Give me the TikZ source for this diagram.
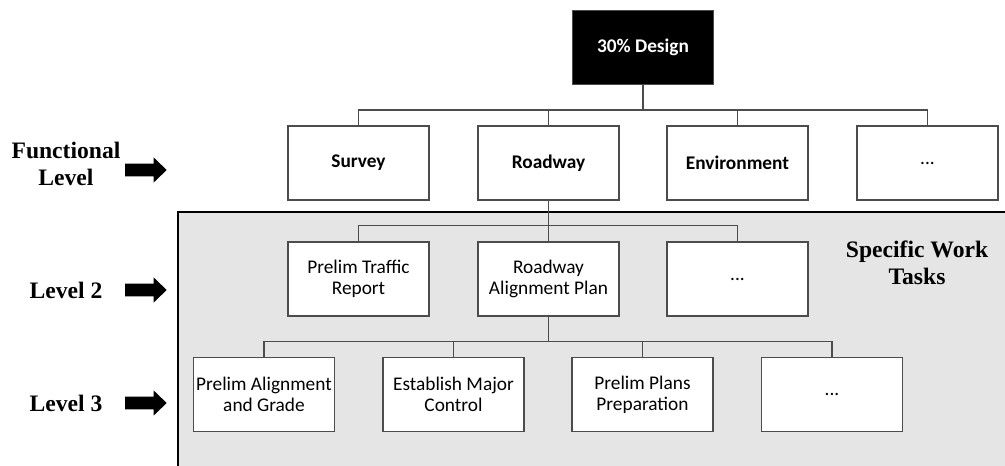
\documentclass[tikz,border=0pt]{standalone}
\usepackage{fontspec}
\setmainfont{Liberation Serif}
\newfontfamily\boxfont{Carlito}
\usetikzlibrary{calc}

\tikzset{
  task/.style={draw=black!70, line width=0.8pt, fill=white, minimum width=105.75pt,
    minimum height=55.5pt, inner sep=0pt, align=center,
    font=\boxfont\fontsize{14.5}{15.75}\selectfont},
  link/.style={draw=black!70, line width=0.8pt},
  levellabel/.style={font=\bfseries\fontsize{17.7}{20.5}\selectfont, align=center},
  levelarrow/.style={fill=black},
}

\begin{document}
\begin{tikzpicture}[x=0.75pt,y=-0.75pt]
    \useasboundingbox (0,0) rectangle (1005,466);
    % shaded work tasks panel
    \fill[black!10] (178,212) rectangle (1005,466);
    \draw[line width=1pt] (178,466) -- (178,212) -- (1005,212);
    % boxes
    \node[task, fill=black, text=white, font=\boxfont\bfseries\fontsize{14.5}{15.75}\selectfont] (design) at (643,47.5) {30\% Design};
    \node[task, font=\boxfont\bfseries\fontsize{14.5}{15.75}\selectfont] (survey) at (358.5,163) {Survey};
    \node[task, font=\boxfont\bfseries\fontsize{14.5}{15.75}\selectfont] (roadway) at (548.5,163) {Roadway};
    \node[task, font=\boxfont\bfseries\fontsize{14.5}{15.75}\selectfont] (environment) at (737.5,163) {Environment};
    \node[task] (moreA) at (927.5,163) {...};
    \node[task] (traffic) at (358.5,279) {Prelim Traffic\\Report};
    \node[task] (alignplan) at (548.5,279) {Roadway\\Alignment Plan};
    \node[task] (moreB) at (737.5,279) {...};
    \node[task] (grade) at (264,394.5) {Prelim Alignment\\and Grade};
    \node[task] (control) at (453.5,394.5) {Establish Major\\Control};
    \node[task] (plans) at (642.5,394.5) {Prelim Plans\\Preparation};
    \node[task] (moreC) at (832,394.5) {...};
    % connectors
    \foreach \child in {survey,roadway,environment,moreA}
        \draw[link] (design.south) -- ++(0,25) -| (\child.north);
    \foreach \child in {traffic,alignplan,moreB}
        \draw[link] (roadway.south) -- ++(0,25) -| (\child.north);
    \foreach \child in {grade,control,plans,moreC}
        \draw[link] (alignplan.south) -- ++(0,25) -| (\child.north);
    % level labels and arrows
    \node[levellabel] (functional) at (66,164) {Functional\\Level};
    \node[levellabel] (leveltwo) at (66,290) {Level 2};
    \node[levellabel] (levelthree) at (66,403) {Level 3};
    \node[levellabel] (specific) at (917,263) {Specific Work\\Tasks};
    \foreach \y in {170,290,403}
        \fill[levelarrow] (125,\y-6.3) -- (153.5,\y-6.3) -- (153.5,\y-12.7) -- (166.7,\y)
            -- (153.5,\y+12.7) -- (153.5,\y+6.3) -- (125,\y+6.3) -- cycle;
\end{tikzpicture}
\end{document}
